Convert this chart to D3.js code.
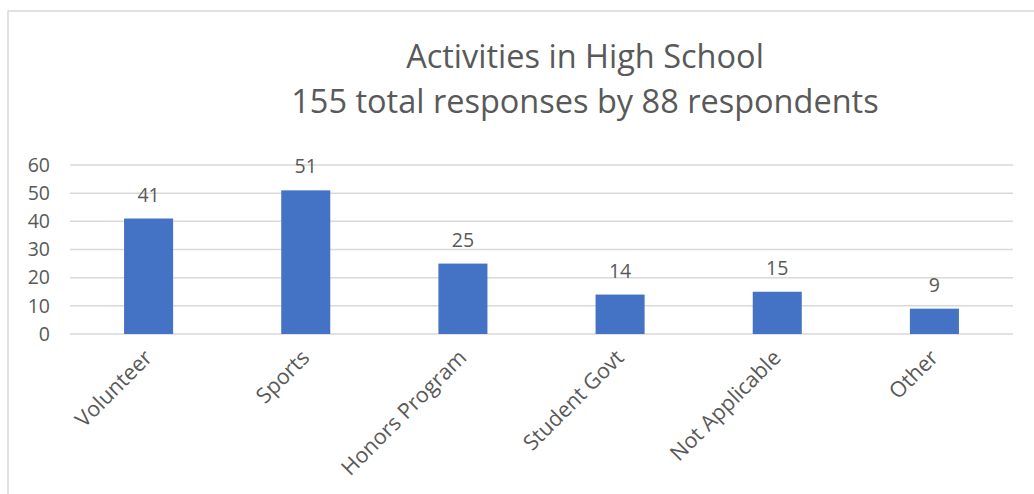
<!DOCTYPE html>
<html>
<head>
<meta charset="utf-8">
<script src="https://cdn.jsdelivr.net/npm/d3@7"></script>
<style>
  body { margin: 0; background: #fff; }
  svg text { font-family: "Open Sans", sans-serif; fill: #595959; }
</style>
</head>
<body>
<div id="root"></div>
<script>
const WIDTH = 1034;
const HEIGHT = 494;
const MARGIN = {top: 165, right: 21, bottom: 160, left: 70};

const categories = ["Volunteer", "Sports", "Honors Program", "Student Govt", "Not Applicable", "Other"];
const counts = [41, 51, 25, 14, 15, 9];
const yTicks = [0, 10, 20, 30, 40, 50, 60];
const titleLines = ["Activities in High School", "155 total responses by 88 respondents"];

const data = categories.map((c, i) => ({name: c, value: counts[i]}));

const svg = d3.select("#root")
    .append("svg")
    .attr("width", WIDTH)
    .attr("height", HEIGHT);

// chart frame, runs off the right and bottom edges
svg.append("rect")
    .attr("x", 8)
    .attr("y", 11)
    .attr("width", WIDTH + 50)
    .attr("height", HEIGHT + 50)
    .attr("fill", "#fff")
    .attr("stroke", "#d9d9d9")
    .attr("stroke-width", 1.5);

const xScale = d3.scaleBand()
    .domain(categories)
    .range([MARGIN.left, WIDTH - MARGIN.right])
    .paddingInner(0.688)
    .paddingOuter(0.344);

const yScale = d3.scaleLinear()
    .domain([0, 60])
    .range([HEIGHT - MARGIN.bottom, MARGIN.top]);

// title
svg.append("g")
    .selectAll("text")
    .data(titleLines)
    .join("text")
    .attr("x", 585)
    .attr("y", (d, i) => 68 + i * 45)
    .attr("text-anchor", "middle")
    .attr("font-size", 32.5)
    .text(d => d);

// gridlines
svg.append("g")
    .selectAll("line")
    .data(yTicks)
    .join("line")
    .attr("x1", MARGIN.left)
    .attr("x2", WIDTH - MARGIN.right)
    .attr("y1", d => yScale(d))
    .attr("y2", d => yScale(d))
    .attr("stroke", "#d9d9d9")
    .attr("stroke-width", 1.5);

// y axis labels
const yAxis = d3.axisLeft(yScale)
    .tickValues(yTicks)
    .tickSize(0)
    .tickPadding(20);

const yAxisG = svg.append("g")
    .attr("transform", `translate(${MARGIN.left}, 0)`)
    .call(yAxis);
yAxisG.select(".domain").remove();
yAxisG.selectAll("text")
    .attr("font-size", 19.5)
    .attr("font-family", "Open Sans, sans-serif")
    .attr("fill", "#595959");

// bars
svg.append("g")
    .selectAll("rect")
    .data(data)
    .join("rect")
    .attr("x", d => xScale(d.name))
    .attr("y", d => yScale(d.value))
    .attr("width", xScale.bandwidth())
    .attr("height", d => yScale(0) - yScale(d.value))
    .attr("fill", "#4472c4");

// data labels
svg.append("g")
    .selectAll("text")
    .data(data)
    .join("text")
    .attr("x", d => xScale(d.name) + xScale.bandwidth() / 2)
    .attr("y", d => yScale(d.value) - 17)
    .attr("text-anchor", "middle")
    .attr("font-size", 19.5)
    .text(d => d.value);

// rotated category labels
svg.append("g")
    .selectAll("text")
    .data(data)
    .join("text")
    .attr("transform", d => `translate(${xScale(d.name) + xScale.bandwidth() / 2 + 5}, ${yScale(0) + 25}) rotate(-45)`)
    .attr("text-anchor", "end")
    .attr("font-size", 21.5)
    .text(d => d.name);
</script>
</body>
</html>
